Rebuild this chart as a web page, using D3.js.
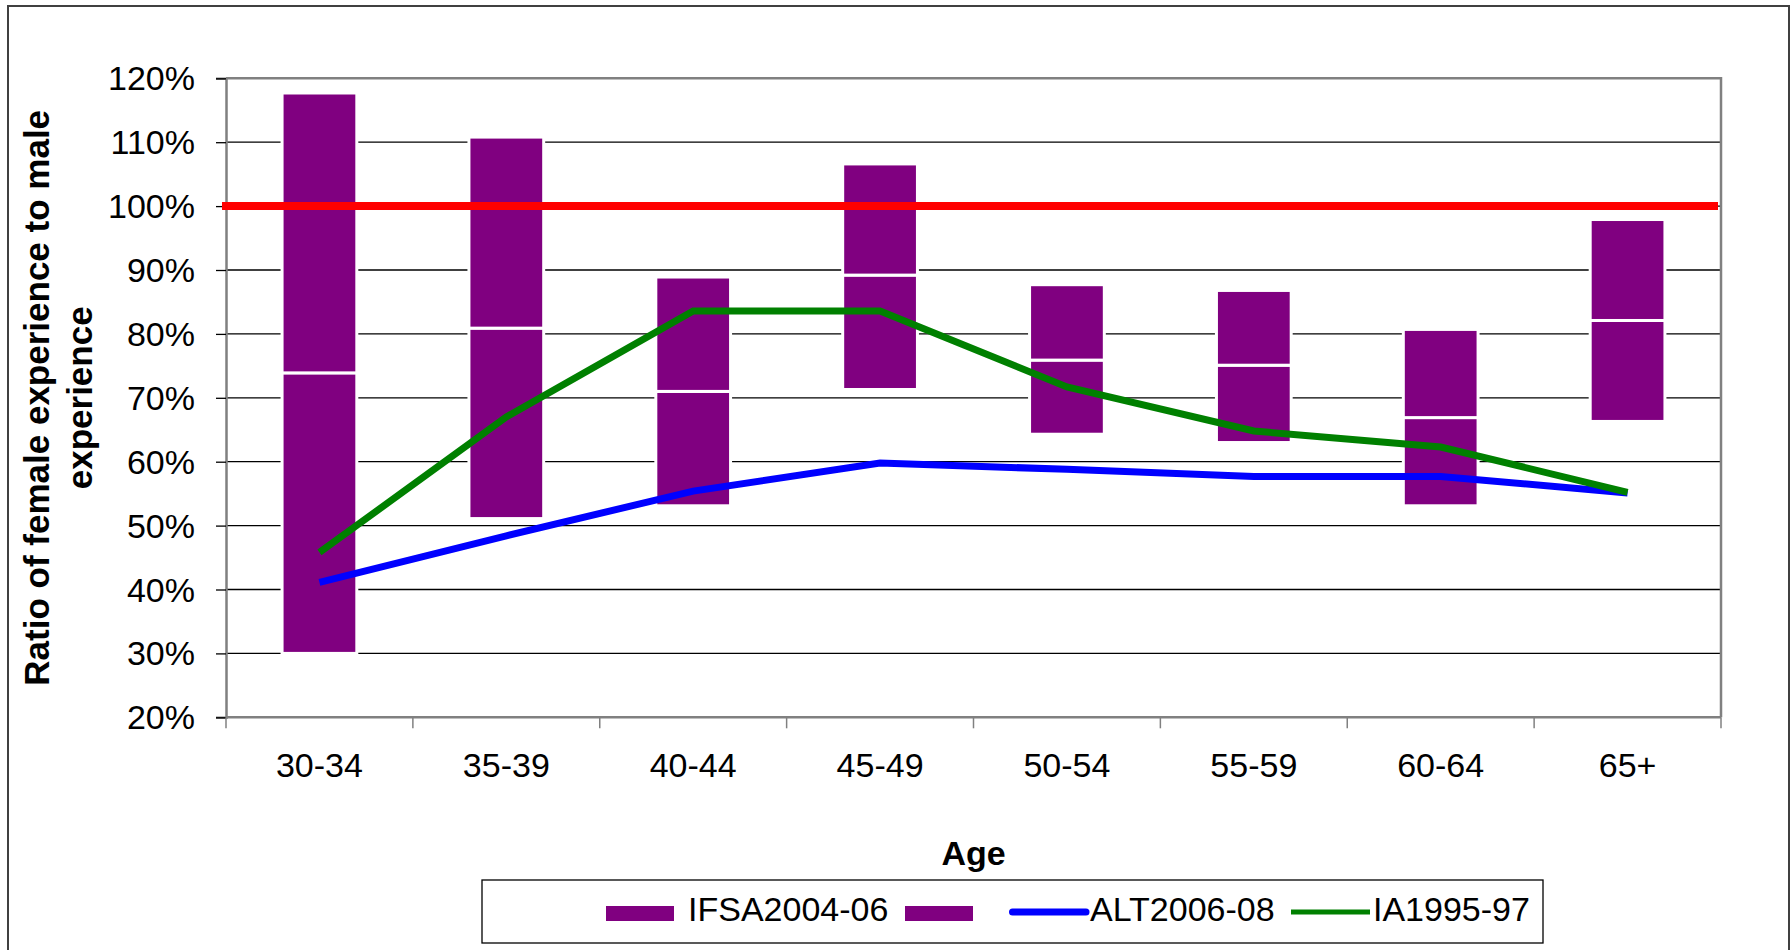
<!DOCTYPE html>
<html>
<head>
<meta charset="utf-8">
<script src="https://cdn.jsdelivr.net/npm/d3@7"></script>
<style>
  html, body { margin: 0; padding: 0; background: #ffffff; }
  svg { display: block; font-family: "Liberation Sans", Arial, sans-serif; }
</style>
</head>
<body>
<svg id="chart" width="1790" height="950"></svg>
<script>
// Age bands on the category axis
const ages = ["30-34", "35-39", "40-44", "45-49", "50-54", "55-59", "60-64", "65+"];

// IFSA2004-06 range: low, central and high ratio (%) per age band
const ifsaLow  = [30.0, 51.1, 53.1, 71.3, 64.3, 63.0, 53.1, 66.3];
const ifsaMid  = [73.9, 80.9, 71.0, 89.2, 75.9, 75.1, 66.9, 82.1];
const ifsaHigh = [117.7, 110.8, 88.9, 106.6, 87.7, 86.8, 80.7, 97.9];

// Comparison series (%)
const alt2006 = [41.1, 48.4, 55.4, 59.8, 58.8, 57.7, 57.7, 55.1];
const ia1995  = [45.8, 67.0, 83.6, 83.6, 71.7, 64.8, 62.3, 55.2];

// Parity reference level (%)
const parity = 100;

// Axis ticks (%)
const yTicks = [20, 30, 40, 50, 60, 70, 80, 90, 100, 110, 120];

// Legend entries
const legendItems = [
  { label: "IFSA2004-06", kind: "bar",  color: "#800080" },
  { label: "",            kind: "bar",  color: "#800080" },
  { label: "ALT2006-08",  kind: "line", color: "#0000ff" },
  { label: "IA1995-97",   kind: "line", color: "#008000" }
];

const svg = d3.select("#chart");
const plot = { left: 226, top: 78.3, right: 1721, bottom: 717.3 };

// Outer chart frame
svg.append("rect")
  .attr("x", 8).attr("y", 6).attr("width", 1781).attr("height", 950)
  .attr("fill", "#fff").attr("stroke", "#404040").attr("stroke-width", 2);

const x = d3.scaleBand()
  .domain(ages)
  .range([plot.left, plot.right])
  .paddingInner(0.6)
  .paddingOuter(0.3);

const y = d3.scaleLinear()
  .domain([20, 120])
  .range([plot.bottom, plot.top]);

const cx = a => x(a) + x.bandwidth() / 2;

// Horizontal gridlines
svg.append("g")
  .selectAll("line")
  .data(yTicks.filter(t => t > 20 && t < 120))
  .join("line")
  .attr("x1", plot.left).attr("x2", plot.right)
  .attr("y1", d => y(d)).attr("y2", d => y(d))
  .attr("stroke", "#000").attr("stroke-width", 1.3);

// IFSA range bars: lower segment (low→central) and upper segment (central→high)
const segments = [];
ages.forEach((a, i) => {
  segments.push({ age: a, from: ifsaLow[i], to: ifsaMid[i] });
  segments.push({ age: a, from: ifsaMid[i], to: ifsaHigh[i] });
});
svg.append("g")
  .selectAll("rect")
  .data(segments)
  .join("rect")
  .attr("x", d => x(d.age))
  .attr("width", x.bandwidth())
  .attr("y", d => y(d.to))
  .attr("height", d => y(d.from) - y(d.to))
  .attr("fill", "#800080")
  .attr("stroke", "#ffffff")
  .attr("stroke-width", 3);

// Plot border (top and right)
svg.append("path")
  .attr("d", `M${plot.left},${plot.top}H${plot.right}V${plot.bottom}`)
  .attr("fill", "none").attr("stroke", "#808080").attr("stroke-width", 2.5);

// Y axis
const yAxis = svg.append("g")
  .attr("transform", `translate(${plot.left},0)`)
  .call(d3.axisLeft(y).tickValues(yTicks).tickSize(10).tickPadding(21)
    .tickFormat(d => d + "%"));
yAxis.select(".domain").attr("stroke", "#808080").attr("stroke-width", 2.5);
yAxis.selectAll(".tick line").attr("stroke", "#000").attr("stroke-width", 1.3);
yAxis.selectAll(".tick text")
  .attr("font-size", 34).attr("fill", "#000")
  .attr("font-family", "Liberation Sans, Arial, sans-serif")
  .attr("dy", "0.34em");

// X axis: labels centred on bands, tick marks on band boundaries
const xAxis = svg.append("g")
  .attr("transform", `translate(0,${plot.bottom})`)
  .call(d3.axisBottom(x).tickSize(0).tickPadding(36));
xAxis.select(".domain").remove();
xAxis.selectAll(".tick text")
  .attr("font-size", 34).attr("fill", "#000")
  .attr("font-family", "Liberation Sans, Arial, sans-serif");
svg.append("line")
  .attr("x1", plot.left).attr("x2", plot.right)
  .attr("y1", plot.bottom).attr("y2", plot.bottom)
  .attr("stroke", "#808080").attr("stroke-width", 2.5);
const bounds = ages.map(a => x(a) - x.step() * x.paddingInner() / 2).concat([plot.right]);
svg.append("g")
  .selectAll("line")
  .data(bounds)
  .join("line")
  .attr("x1", d => d).attr("x2", d => d)
  .attr("y1", plot.bottom).attr("y2", plot.bottom + 11)
  .attr("stroke", "#808080").attr("stroke-width", 1.5);

// Parity line at 100%
svg.append("line")
  .attr("x1", plot.left - 4).attr("x2", plot.right - 3)
  .attr("y1", y(parity)).attr("y2", y(parity))
  .attr("stroke", "#ff0000").attr("stroke-width", 8);

// Comparison lines
const line = d3.line().x(d => cx(d.age)).y(d => y(d.v));
[[alt2006, "#0000ff"], [ia1995, "#008000"]].forEach(([vals, col]) => {
  svg.append("path")
    .datum(ages.map((a, i) => ({ age: a, v: vals[i] })))
    .attr("d", line)
    .attr("fill", "none")
    .attr("stroke", col)
    .attr("stroke-width", 7)
    .attr("stroke-linejoin", "miter");
});

// Axis titles
const yTitle = ["Ratio of female experience to male", "experience"];
yTitle.forEach((t, i) => {
  svg.append("text")
    .attr("transform", `translate(${49 + i * 43},${(plot.top + plot.bottom) / 2}) rotate(-90)`)
    .attr("text-anchor", "middle")
    .attr("font-size", 35).attr("font-weight", "bold")
    .text(t);
});
svg.append("text")
  .attr("x", (plot.left + plot.right) / 2).attr("y", 865)
  .attr("text-anchor", "middle")
  .attr("font-size", 34).attr("font-weight", "bold")
  .text("Age");

// Legend
const lg = svg.append("g");
lg.append("rect")
  .attr("x", 482).attr("y", 880).attr("width", 1061).attr("height", 63)
  .attr("fill", "#fff").attr("stroke", "#000").attr("stroke-width", 1.3);
const legendX = [606, 905, 1009, 1291];
legendItems.forEach((it, i) => {
  const x0 = legendX[i];
  if (it.kind === "bar") {
    lg.append("rect")
      .attr("x", x0).attr("y", 906).attr("width", 68).attr("height", 15)
      .attr("fill", it.color);
    if (it.label) {
      lg.append("text").attr("x", x0 + 82).attr("y", 921)
        .attr("font-size", 34).text(it.label);
    }
  } else {
    const blue = i === 2;
    lg.append("line")
      .attr("x1", x0 + (blue ? 3.5 : 0)).attr("x2", x0 + (blue ? 77 : 79))
      .attr("y1", 912).attr("y2", 912)
      .attr("stroke", it.color)
      .attr("stroke-width", blue ? 7 : 5)
      .attr("stroke-linecap", blue ? "round" : "butt");
    lg.append("text").attr("x", x0 + (blue ? 81 : 82)).attr("y", 921)
      .attr("font-size", 34).text(it.label);
  }
});
</script>
</body>
</html>
